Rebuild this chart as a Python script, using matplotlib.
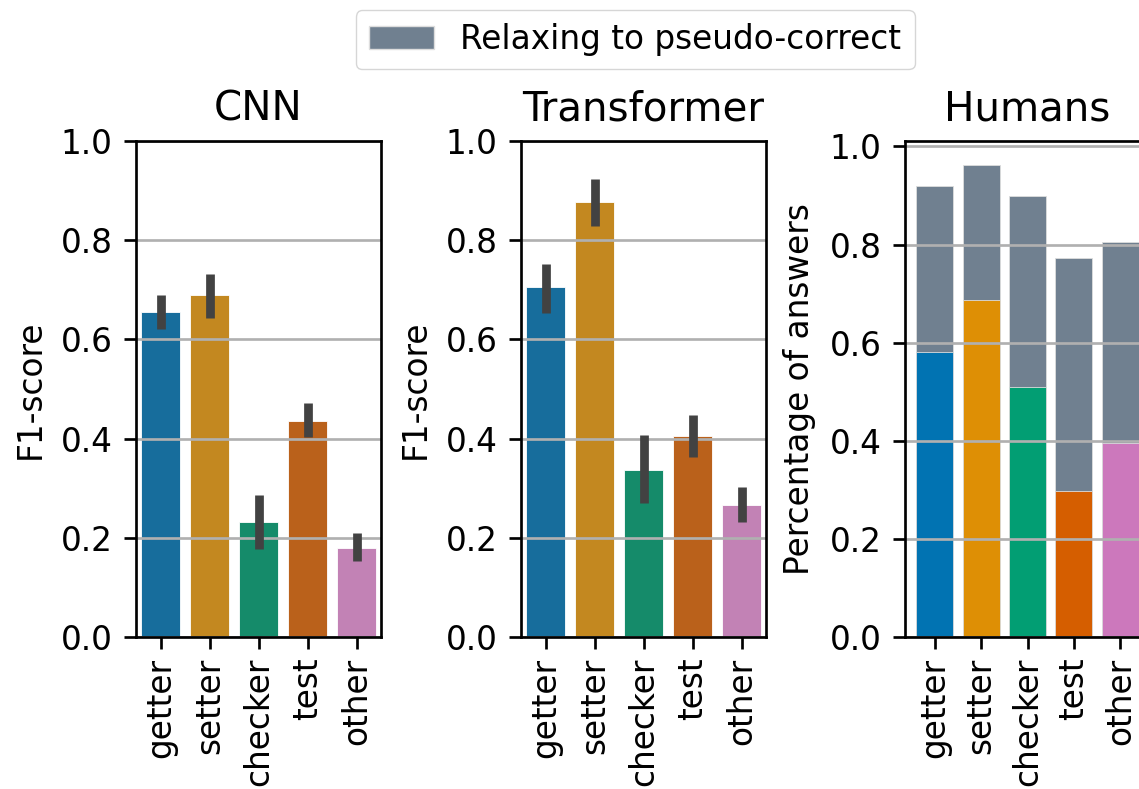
import matplotlib
matplotlib.use("Agg")
import matplotlib.pyplot as plt
from matplotlib.patches import Patch
import colorsys
import numpy as np

categories = ["getter", "setter", "checker", "test", "other"]

cnn_f1 = [0.656, 0.689, 0.232, 0.436, 0.180]
cnn_lo = [0.621, 0.644, 0.178, 0.404, 0.153]
cnn_hi = [0.690, 0.731, 0.286, 0.471, 0.210]

tr_f1 = [0.705, 0.877, 0.337, 0.405, 0.266]
tr_lo = [0.654, 0.829, 0.270, 0.362, 0.232]
tr_hi = [0.753, 0.923, 0.407, 0.448, 0.303]

human_correct = [0.580, 0.688, 0.510, 0.298, 0.395]
human_relaxed = [0.919, 0.963, 0.900, 0.772, 0.805]

titles = ["CNN", "Transformer", "Humans"]
legend_label = "Relaxing to pseudo-correct"

palette = ["#0173b2", "#de8f05", "#029e73", "#d55e00", "#cc78bc"]
gray = "#708090"

def desat(hexc, prop=0.75):
    r, g, b = matplotlib.colors.to_rgb(hexc)
    h, l, s = colorsys.rgb_to_hls(r, g, b)
    return colorsys.hls_to_rgb(h, l, s * prop)

S = 2.42
FS = 23.6
plt.rcParams.update({
    "font.family": "DejaVu Sans",
    "font.size": FS,
    "axes.linewidth": 0.8 * S,
    "xtick.major.size": 3.5 * S,
    "ytick.major.size": 3.5 * S,
    "xtick.major.width": 0.8 * S,
    "ytick.major.width": 0.8 * S,
    "xtick.major.pad": 6.5,
    "ytick.major.pad": 3.5 * S,
    "xtick.labelsize": FS,
    "ytick.labelsize": FS,
    "axes.labelsize": FS,
    "axes.titlesize": 12 * S,
    "grid.linewidth": 0.8 * S,
    "grid.color": "#b0b0b0",
    "axes.labelpad": 4 * S,
})

fig = plt.figure(figsize=(11.39, 7.89), dpi=100)
W, H = 1139, 789
bottom = 1 - 637 / H
height = (637 - 141) / H
lefts = [136, 521, 905]
width = 245 / W

x = np.arange(len(categories))
axes = []
for i, l in enumerate(lefts):
    axes.append(fig.add_axes([l / W, bottom, width, height]))

for ax, vals, lo, hi in [(axes[0], cnn_f1, cnn_lo, cnn_hi), (axes[1], tr_f1, tr_lo, tr_hi)]:
    cols = [desat(c) for c in palette]
    ax.bar(x, vals, width=0.8, color=cols, edgecolor="white", linewidth=0.6)
    ax.vlines(x, lo, hi, color="#424242", linewidth=2.6 * S, zorder=3)
    ax.set_xlim(-0.5, len(categories) - 0.5)
    ax.set_ylim(0, 1.0)
    ax.set_ylabel("F1-score")

ax = axes[2]
ax.bar(x, human_relaxed, width=0.8, color=gray, edgecolor="#dddddd", linewidth=0.6, label=legend_label)
ax.bar(x, human_correct, width=0.8, color=palette, edgecolor="#dddddd", linewidth=0.6)
ax.set_ylabel("Percentage of answers")

for ax, t in zip(axes, titles):
    ax.set_title(t, pad=6 * S)
    ax.set_xticks(x)
    ax.set_xticklabels(categories, rotation=90)
    ax.set_yticks([0.0, 0.2, 0.4, 0.6, 0.8, 1.0])
    ax.set_yticklabels(["0.0", "0.2", "0.4", "0.6", "0.8", "1.0"])
    ax.yaxis.grid(True)
    ax.xaxis.grid(False)

fig.legend(handles=[Patch(facecolor=gray, edgecolor="#dddddd", label=legend_label)],
           loc="upper center", bbox_to_anchor=(635 / W, 1 - 10 / H), borderaxespad=0,
           fontsize=FS, frameon=True)

fig.savefig("out.png", dpi=100)
